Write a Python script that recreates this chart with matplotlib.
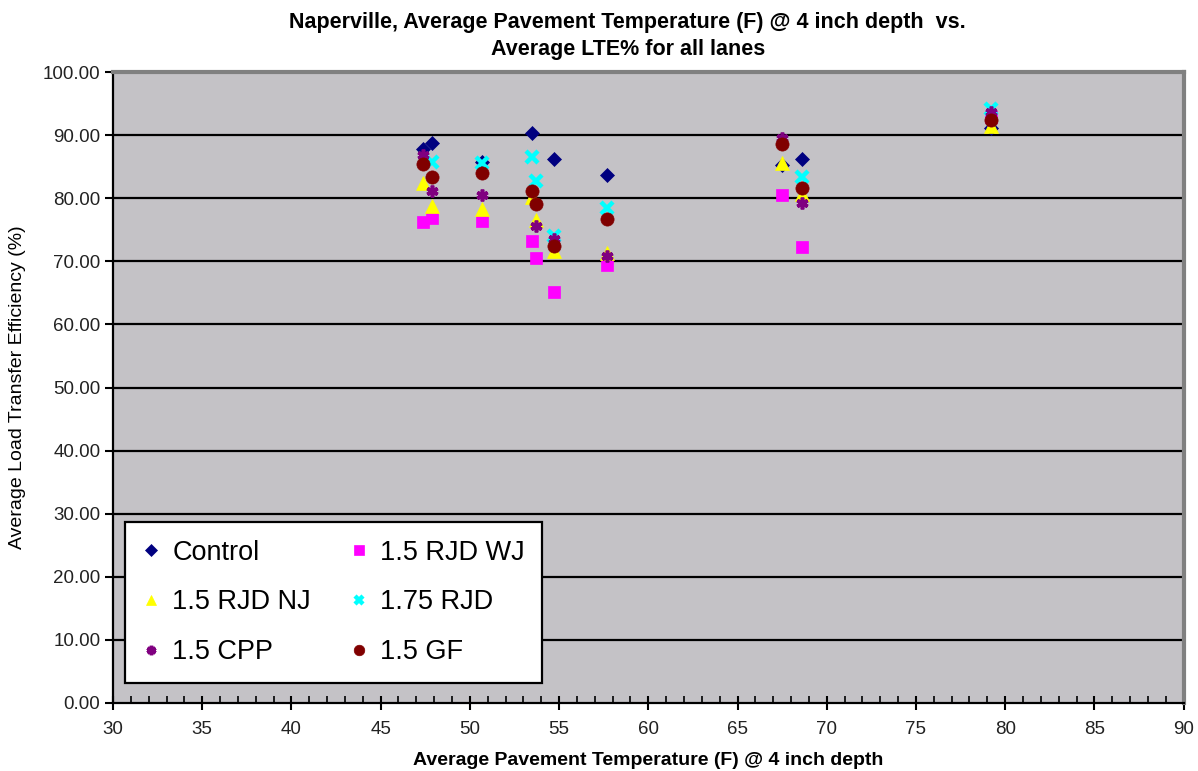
import matplotlib
matplotlib.use("Agg")
import matplotlib.pyplot as plt
from matplotlib.ticker import MultipleLocator, FormatStrFormatter

plt.rcParams['font.family'] = ['Liberation Sans', 'DejaVu Sans']

title = "Naperville, Average Pavement Temperature (F) @ 4 inch depth  vs.\nAverage LTE% for all lanes"
xlabel = "Average Pavement Temperature (F) @ 4 inch depth"
ylabel = "Average Load Transfer Efficiency (%)"

series_names = ["Control", "1.5 RJD WJ", "1.5 RJD NJ", "1.75 RJD", "1.5 CPP", "1.5 GF"]

control_x = [47.4, 47.9, 50.7, 53.5, 54.7, 57.7, 67.5, 68.6, 79.2]
control_y = [87.8, 88.7, 85.8, 90.3, 86.2, 83.7, 85.2, 86.2, 91.2]

wj_x = [47.4, 47.9, 50.7, 53.5, 53.7, 54.7, 57.7, 67.5, 68.6, 79.2]
wj_y = [76.2, 76.9, 76.4, 73.2, 70.5, 65.1, 69.4, 80.5, 72.3, 92.8]

nj_x = [47.4, 47.9, 50.7, 53.5, 53.7, 54.7, 57.7, 67.5, 68.6, 79.2]
nj_y = [82.4, 78.8, 78.3, 80.2, 76.5, 71.6, 71.3, 85.6, 80.6, 91.4]

rjd175_x = [47.9, 50.7, 53.5, 53.7, 54.7, 57.7, 68.6, 79.2]
rjd175_y = [85.7, 85.6, 86.5, 82.7, 74.0, 78.4, 83.4, 94.1]

cpp_x = [47.4, 47.9, 50.7, 53.7, 54.7, 57.7, 67.5, 68.6, 79.2]
cpp_y = [86.8, 81.1, 80.5, 75.6, 73.5, 70.8, 89.6, 79.2, 93.7]

gf_x = [47.4, 47.9, 50.7, 53.5, 53.7, 54.7, 57.7, 67.5, 68.6, 79.2]
gf_y = [85.4, 83.4, 84.0, 81.1, 79.1, 72.4, 76.7, 88.6, 81.6, 92.4]

xs = [control_x, wj_x, nj_x, rjd175_x, cpp_x, gf_x]
ys = [control_y, wj_y, nj_y, rjd175_y, cpp_y, gf_y]
colors = ["#000080", "#FF00FF", "#FFFF00", "#00FFFF", "#800080", "#800000"]
markers = ["D", "s", "^", "x", (6, 2, 0), "o"]
sizes = [7.5, 9, 9.5, 8, 8.5, 9.5]

fig = plt.figure(figsize=(11.98, 7.71), dpi=100)
ax = fig.add_axes([0.0943, 0.0882, 0.8937, 0.8184])
ax.set_facecolor("#C4C2C6")

handles = []
for x, y, c, m, s, n in zip(xs, ys, colors, markers, sizes, series_names):
    kw = dict(linestyle="none", marker=m, markersize=s, color=c, label=n)
    if m == "x":
        kw.update(markeredgewidth=3.2, markeredgecolor=c)
    elif m == (6, 2, 0):
        kw.update(markeredgewidth=2.6, markeredgecolor=c)
    else:
        kw.update(markeredgecolor=c, markerfacecolor=c, markeredgewidth=0.5)
    h, = ax.plot(x, y, **kw)
    handles.append(h)

ax.set_xlim(30, 90)
ax.set_ylim(0, 100)
ax.xaxis.set_major_locator(MultipleLocator(5))
ax.xaxis.set_minor_locator(MultipleLocator(1))
ax.yaxis.set_major_locator(MultipleLocator(10))
ax.yaxis.set_major_formatter(FormatStrFormatter("%.2f"))

for yv in range(10, 100, 10):
    ax.axhline(yv, color="black", linewidth=1.6, zorder=0.5)

ax.tick_params(axis="x", which="major", direction="inout", length=10, width=1.5, labelsize=13.5, pad=8, colors="black")
ax.tick_params(axis="x", which="minor", direction="in", length=5, width=1.2)
ax.tick_params(axis="y", which="major", direction="out", length=6, width=1.5, labelsize=13.5, pad=3)
for lab in ax.get_xticklabels() + ax.get_yticklabels():
    lab.set_color("#222222")

ax.spines["left"].set_color("black")
ax.spines["left"].set_linewidth(1.6)
ax.spines["bottom"].set_color("black")
ax.spines["bottom"].set_linewidth(1.6)
ax.spines["top"].set_color("#808080")
ax.spines["top"].set_linewidth(3)
ax.spines["right"].set_color("#808080")
ax.spines["right"].set_linewidth(3)

ax.set_xlabel(xlabel, fontsize=14, fontweight="bold", labelpad=10)
ax.set_ylabel(ylabel, fontsize=14, labelpad=12)
fig.text(0.524, 0.985, title, ha="center", va="top", fontsize=15.5, fontweight="bold", linespacing=1.4)

order = [0, 2, 4, 1, 3, 5]
leg = ax.legend([handles[i] for i in order], [series_names[i] for i in order],
                ncol=2, loc="lower left", bbox_to_anchor=(0.011, 0.032),
                borderaxespad=0, fontsize=19.5, frameon=True, fancybox=False,
                edgecolor="black", facecolor="white", framealpha=1,
                handlelength=0.65, handletextpad=0.45, columnspacing=1.45,
                labelspacing=0.88, borderpad=0.65, markerscale=0.8)
leg.get_frame().set_linewidth(1.6)

fig.savefig("out.png", dpi=100, facecolor="white")
